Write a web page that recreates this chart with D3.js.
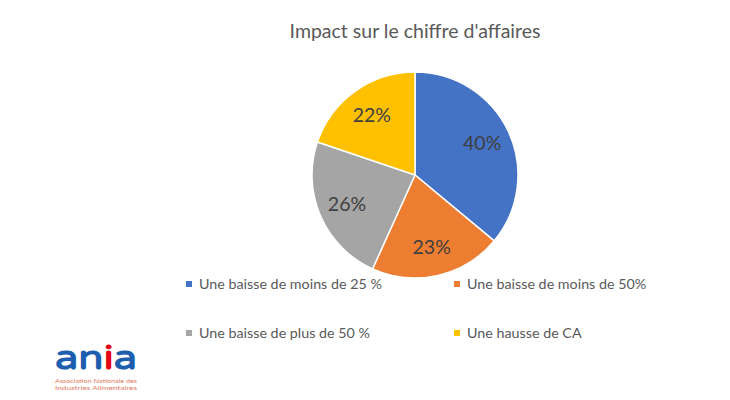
<!DOCTYPE html>
<html><head><meta charset="utf-8">
<script src="https://cdn.jsdelivr.net/npm/d3@7"></script>
<style>body{margin:0;background:#fff}svg{display:block}</style>
</head><body>
<svg id="c" width="730" height="400"></svg>
<script>
const categories = ["Une baisse de moins de 25 %", "Une baisse de moins de 50%", "Une baisse de plus de 50 %", "Une hausse de CA"];
const values = [40, 23, 26, 22];
const labels = ["40%", "23%", "26%", "22%"];
const colors = ["#4472C4", "#ED7D31", "#A5A5A5", "#FFC000"];

const svg = d3.select("#c");
const font = "Lato, 'Open Sans', sans-serif";
svg.append("rect").attr("width",730).attr("height",400).attr("fill","#fff");

svg.append("text").attr("x",415).attr("y",38).attr("text-anchor","middle")
  .attr("font-family",font).attr("font-size",19.5).attr("fill","#595959")
  .text("Impact sur le chiffre d'affaires");

const cx = 415, cy = 175, r = 103;
const pie = d3.pie().sort(null).value(d => d)(values);
const arc = d3.arc().innerRadius(0).outerRadius(r);
const labelArc = d3.arc().innerRadius(r*0.72).outerRadius(r*0.72);
const g = svg.append("g").attr("transform",`translate(${cx},${cy})`);
g.selectAll("path").data(pie).join("path")
  .attr("d",arc).attr("fill",(d,i)=>colors[i]).attr("stroke","#fff").attr("stroke-width",1.5);
g.selectAll("text").data(pie).join("text")
  .attr("transform",d=>`translate(${labelArc.centroid(d)})`)
  .attr("text-anchor","middle").attr("dy","0.35em")
  .attr("font-family",font).attr("font-size",19.5).attr("fill","#404040")
  .text((d,i)=>labels[i]);

const legX = [189, 457], legY = [284, 333];
const lg = svg.append("g");
categories.forEach((c,i)=>{
  const x = legX[i%2], y = legY[Math.floor(i/2)];
  lg.append("rect").attr("x",x-3).attr("y",y-3).attr("width",6).attr("height",6).attr("fill",colors[i]);
  lg.append("text").attr("x",x+10).attr("y",y).attr("dy","0.35em")
    .attr("font-family",font).attr("font-size",14.3).attr("fill","#595959").text(c);
});

// logo
const logo = svg.append("g");
const lt = logo.append("text").attr("x",55).attr("y",369).attr("font-family","'Varela Round', Lato, sans-serif")
  .attr("font-size",34).attr("fill","#1d5fae").attr("font-weight",700)
  .attr("textLength",82).attr("lengthAdjust","spacingAndGlyphs");
lt.append("tspan").text("an");
lt.append("tspan").attr("fill","#e30613").text("i");
lt.append("tspan").text("a");
logo.append("text").attr("x",55).attr("y",383).attr("font-family",font).attr("font-size",5.5).attr("fill","#e07a5f")
  .attr("textLength",82).attr("lengthAdjust","spacingAndGlyphs").text("Association Nationale des");
logo.append("text").attr("x",55).attr("y",390).attr("font-family",font).attr("font-size",5.5).attr("fill","#e07a5f")
  .attr("textLength",82).attr("lengthAdjust","spacingAndGlyphs").text("Industries Alimentaires");
</script>
</body></html>
